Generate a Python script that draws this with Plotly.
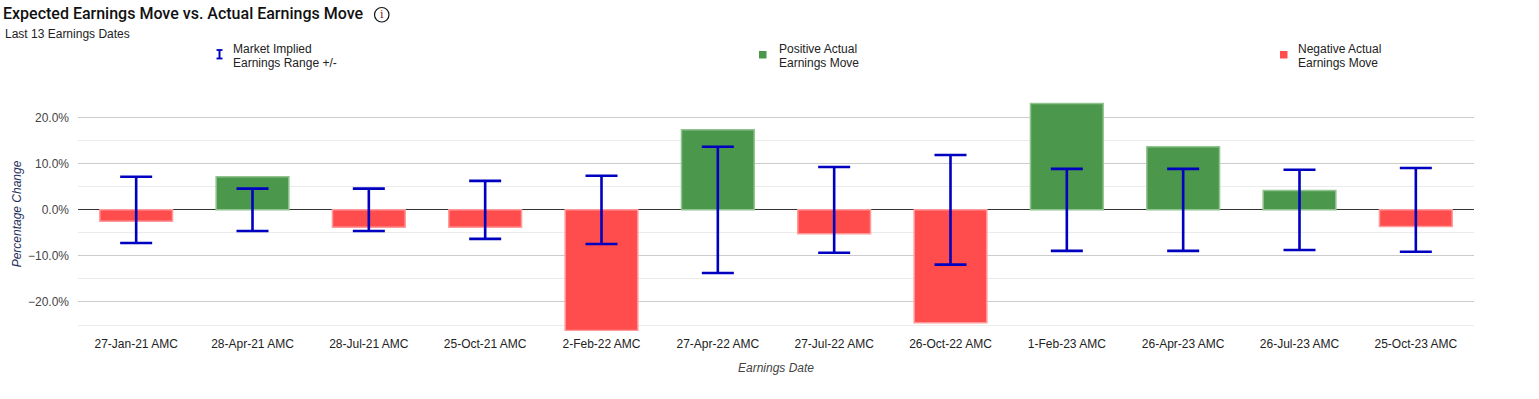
import plotly.graph_objects as go

categories = ["27-Jan-21 AMC", "28-Apr-21 AMC", "28-Jul-21 AMC", "25-Oct-21 AMC",
              "2-Feb-22 AMC", "27-Apr-22 AMC", "27-Jul-22 AMC", "26-Oct-22 AMC",
              "1-Feb-23 AMC", "26-Apr-23 AMC", "26-Jul-23 AMC", "25-Oct-23 AMC"]
actual_move = [-2.5, 7.2, -3.8, -3.8, -26.2, 17.4, -5.2, -24.5, 23.1, 13.7, 4.2, -3.6]
implied_range = [7.2, 4.6, 4.6, 6.3, 7.4, 13.7, 9.3, 11.9, 8.9, 8.9, 8.7, 9.1]

W, H = 1539, 399
L, R, T, B = 78, 1474, 97, 331

POS_FILL, POS_LINE = "#4b974b", "#8fc48f"
NEG_FILL, NEG_LINE = "#ff4d4d", "#ff9a9a"
ERR = "#0000c0"


def px(x):
    return (x - L) / (R - L)


def py(y):
    return (B - y) / (B - T)


fig = go.Figure()
fig.add_trace(go.Bar(
    x=categories, y=actual_move,
    marker=dict(color=[POS_FILL if v >= 0 else NEG_FILL for v in actual_move],
                line=dict(color=[POS_LINE if v >= 0 else NEG_LINE for v in actual_move], width=1.5)),
    showlegend=False, hoverinfo="x+y",
))
fig.add_trace(go.Scatter(
    x=categories, y=[0] * len(categories), mode="markers",
    marker=dict(size=1, color="rgba(0,0,0,0)"),
    error_y=dict(type="data", array=implied_range, symmetric=True,
                 color=ERR, thickness=2.6, width=16),
    showlegend=False,
))

shapes = []
annotations = []

# info icon
shapes.append(dict(type="circle", xref="paper", yref="paper",
                   x0=px(374.5), x1=px(389), y0=py(22), y1=py(7.5),
                   line=dict(color="#111", width=1.2)))
annotations.append(dict(text="i", xref="paper", yref="paper", x=px(381.8), y=py(14.8),
                        showarrow=False, xanchor="center", yanchor="middle",
                        font=dict(family="DejaVu Serif", size=11, color="#8b1a1a")))

annotations.append(dict(text="Last 13 Earnings Dates", xref="paper", yref="paper",
                        x=px(3), y=py(34), showarrow=False, xanchor="left", yanchor="middle",
                        font=dict(family="Liberation Sans", size=12, color="#222")))

# legend: error bar glyph
ex = 219.5
shapes.append(dict(type="line", xref="paper", yref="paper", x0=px(ex), x1=px(ex),
                   y0=py(50), y1=py(58.5), line=dict(color=ERR, width=2)))
for yy in (50, 58.5):
    shapes.append(dict(type="line", xref="paper", yref="paper", x0=px(ex - 3), x1=px(ex + 3),
                       y0=py(yy), y1=py(yy), line=dict(color=ERR, width=1.8)))
# legend squares
shapes.append(dict(type="rect", xref="paper", yref="paper", x0=px(759), x1=px(766.5),
                   y0=py(58.5), y1=py(51), fillcolor=POS_FILL, line=dict(width=0)))
shapes.append(dict(type="rect", xref="paper", yref="paper", x0=px(1280), x1=px(1287.5),
                   y0=py(58.5), y1=py(51), fillcolor=NEG_FILL, line=dict(width=0)))

legend_items = [(("Market Implied", "Earnings Range +/-"), 231),
                (("Positive Actual", "Earnings Move"), 777),
                (("Negative Actual", "Earnings Move"), 1296)]
for lines, xx in legend_items:
    for txt, yy in zip(lines, (48.5, 62.5)):
        annotations.append(dict(text=txt, xref="paper", yref="paper", x=px(xx), y=py(yy),
                                showarrow=False, xanchor="left", yanchor="middle", align="left",
                                font=dict(family="Liberation Sans", size=12, color="#222")))

fig.update_layout(
    width=W, height=H, autosize=False,
    margin=dict(l=L, r=W - R, t=T, b=H - B, pad=0),
    paper_bgcolor="white", plot_bgcolor="white",
    bargap=0.375,
    title=dict(text="Expected Earnings Move vs. Actual Earnings Move",
               x=3 / W, xanchor="left", xref="container",
               y=1 - 13.5 / H, yanchor="middle", yref="container",
               font=dict(family="Roboto", size=16, color="#111", weight=500)),
    xaxis=dict(type="category", showgrid=False, showline=False, ticks="",
               range=[-0.5, len(categories) - 0.5],
               automargin=False, ticklabelstandoff=4,
               tickfont=dict(family="Liberation Sans", size=12, color="#222"),
               title=dict(text="Earnings Date", standoff=13,
                          font=dict(family="Liberation Sans", size=12, color="#444", style="italic"))),
    yaxis=dict(range=[-26.3, 24.5], dtick=10, tick0=0, tickformat=".1f", ticksuffix="%",
               showgrid=True, gridcolor="#cccccc", gridwidth=1,
               zeroline=True, zerolinecolor="#333333", zerolinewidth=1,
               showline=False, ticks="", automargin=False, ticklabelstandoff=8,
               tickfont=dict(family="Liberation Sans", size=12, color="#444"),
               minor=dict(dtick=5, tick0=0, showgrid=True, gridcolor="#ebebeb", gridwidth=1),
               title=dict(text="Percentage Change", standoff=3,
                          font=dict(family="Liberation Sans", size=12, color="#1f2f5c", style="italic"))),
    shapes=shapes, annotations=annotations,
)

fig.write_html("out.html", config={"displayModeBar": False},
               post_script="document.body.style.margin='0';")
